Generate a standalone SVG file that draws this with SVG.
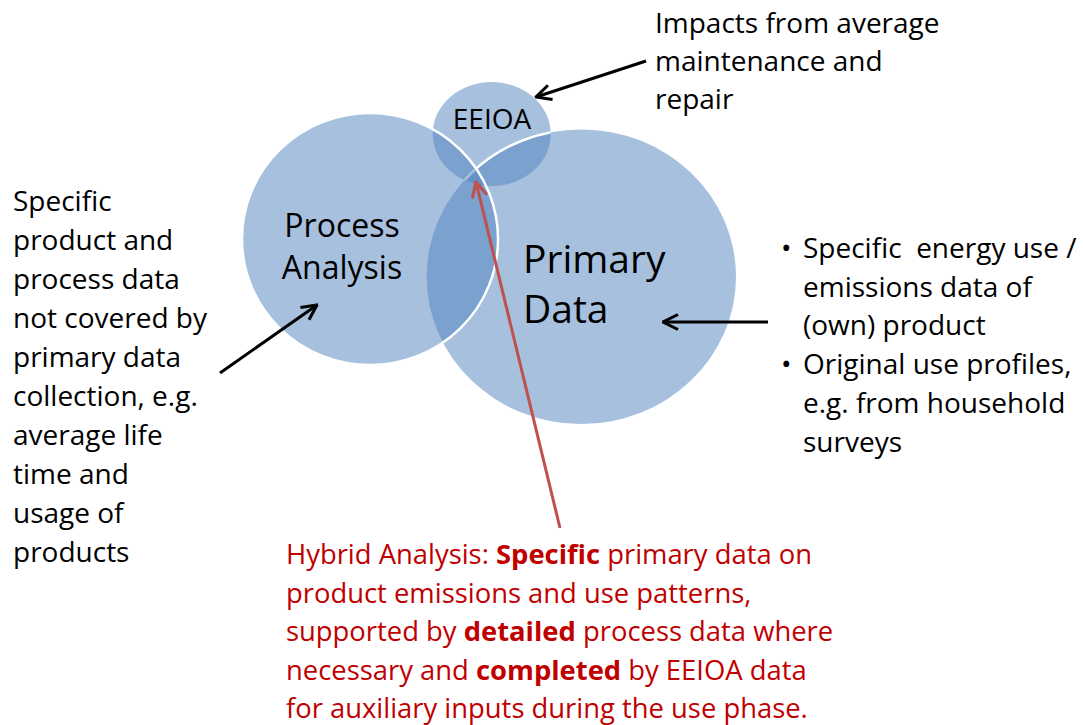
<svg xmlns="http://www.w3.org/2000/svg" width="1083" height="725" viewBox="0 0 1083 725">
  <style>
    .fill { fill: #4F81BD; fill-opacity: 0.5; stroke: none; }
    .edge { fill: none; stroke: #FFFFFF; stroke-width: 2.5; }
    .t { font-family: "Open Sans", "Liberation Sans", sans-serif; font-size: 28px; fill: #000000; }
    .lbl { font-family: "Open Sans", "Liberation Sans", sans-serif; fill: #000000; }
    .red { font-family: "Open Sans", "Liberation Sans", sans-serif; font-size: 27.4px; fill: #C00000; }
    .b { font-weight: bold; }
    .conn { fill: none; stroke: #000000; stroke-width: 3; }
    .connred { fill: none; stroke: #C0504D; stroke-width: 3; }
  </style>
  <defs>
    <marker id="ah" viewBox="0 0 12 12" refX="11" refY="6" markerWidth="6" markerHeight="6" markerUnits="strokeWidth" orient="auto">
      <path d="M1,1 L11,6 L1,11" fill="none" stroke="#000000" stroke-width="2"/>
    </marker>
    <marker id="ahr" viewBox="0 0 12 12" refX="11" refY="6" markerWidth="6" markerHeight="6" markerUnits="strokeWidth" orient="auto">
      <path d="M1,1 L11,6 L1,11" fill="none" stroke="#C0504D" stroke-width="2"/>
    </marker>
    <clipPath id="clipEE">
      <ellipse cx="491.7" cy="134" rx="59" ry="52"/>
    </clipPath>
  </defs>

  <g id="node-eeioa">
    <ellipse class="fill" cx="491.7" cy="134" rx="59" ry="52"/>
    <text class="lbl" x="492" y="129" font-size="28" text-anchor="middle">EEIOA</text>
  </g>
  <g id="node-primary-data">
    <ellipse class="fill" cx="581.3" cy="276.7" rx="154.7" ry="147.3"/>
    <ellipse class="edge" cx="581.3" cy="276.7" rx="154.7" ry="147.3" clip-path="url(#clipEE)"/>
    <text class="lbl" font-size="39"><tspan x="523" y="273">Primary</tspan><tspan x="523" y="323">Data</tspan></text>
  </g>
  <g id="node-process-analysis">
    <ellipse class="fill" cx="370" cy="239" rx="128" ry="126"/>
    <ellipse class="edge" cx="370" cy="239" rx="128" ry="126"/>
    <text class="lbl" font-size="32" text-anchor="middle"><tspan x="342" y="237">Process</tspan><tspan x="342" y="279">Analysis</tspan></text>
  </g>

  <g id="note-maintenance">
    <text class="t"><tspan x="655" y="33">Impacts from average</tspan><tspan x="655" y="71">maintenance and</tspan><tspan x="655" y="109">repair</tspan></text>
  </g>
  <g id="note-process">
    <text class="t">
      <tspan x="13" y="211">Specific</tspan>
      <tspan x="13" y="250">product and</tspan>
      <tspan x="13" y="289">process data</tspan>
      <tspan x="13" y="328">not covered by</tspan>
      <tspan x="13" y="367">primary data</tspan>
      <tspan x="13" y="406">collection, e.g.</tspan>
      <tspan x="13" y="445">average life</tspan>
      <tspan x="13" y="484">time and</tspan>
      <tspan x="13" y="523">usage of</tspan>
      <tspan x="13" y="562">products</tspan>
    </text>
  </g>
  <g id="note-primary">
    <text class="t">
      <tspan x="781" y="258">•</tspan><tspan x="803" y="258">Specific&#160; energy use /</tspan>
      <tspan x="803" y="297">emissions data of</tspan>
      <tspan x="803" y="335">(own) product</tspan>
      <tspan x="781" y="374">•</tspan><tspan x="803" y="374">Original use profiles,</tspan>
      <tspan x="803" y="413">e.g. from household</tspan>
      <tspan x="803" y="452">surveys</tspan>
    </text>
  </g>
  <g id="note-hybrid">
    <text class="red">
      <tspan x="286" y="564">Hybrid Analysis: </tspan><tspan class="b">Specific</tspan><tspan> primary data on</tspan>
      <tspan x="286" y="603">product emissions and use patterns,</tspan>
      <tspan x="286" y="641">supported by </tspan><tspan class="b">detailed</tspan><tspan> process data where</tspan>
      <tspan x="286" y="680">necessary and </tspan><tspan class="b">completed</tspan><tspan> by EEIOA data</tspan>
      <tspan x="286" y="718">for auxiliary inputs during the use phase.</tspan>
    </text>
  </g>

  <g id="connectors">
    <line class="conn" x1="646" y1="61" x2="536" y2="97" marker-end="url(#ah)"/>
    <line class="conn" x1="220" y1="373" x2="317" y2="305" marker-end="url(#ah)"/>
    <line class="conn" x1="768" y1="322" x2="663" y2="322" marker-end="url(#ah)"/>
    <line class="connred" x1="560" y1="528" x2="476" y2="182" marker-end="url(#ahr)"/>
  </g>
</svg>
